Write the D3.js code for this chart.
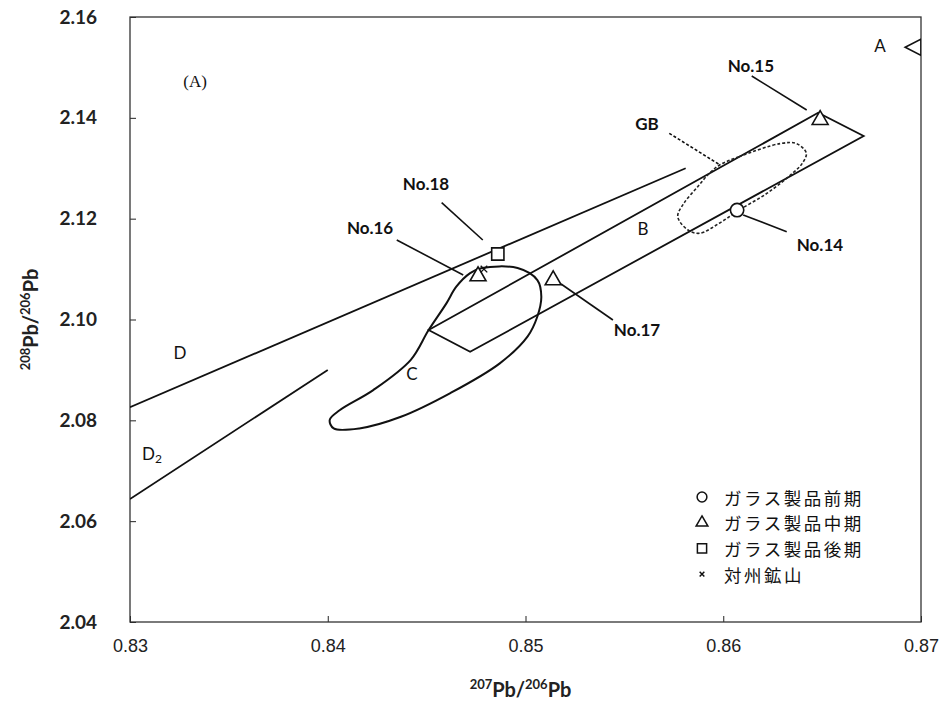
<!DOCTYPE html>
<html>
<head>
<meta charset="utf-8">
<script src="https://cdn.jsdelivr.net/npm/d3@7"></script>
<style>
  body { margin: 0; background: #fff; overflow: hidden; }
  svg { display: block; }
  .tick line { stroke: #222; }
  .ylab .tick text { font-family: Lato, "Open Sans", sans-serif; font-weight: 700; font-size: 19px; fill: #222; }
  .xlab .tick text { font-family: "Liberation Sans Narrow", "Liberation Sans", sans-serif; font-stretch: condensed; font-size: 18px; fill: #222; }
  .lbl { font-family: Lato, "Open Sans", sans-serif; font-weight: 700; font-size: 17px; fill: #111; }
  .zone { font-family: Lato, "Open Sans", sans-serif; font-size: 17px; fill: #111; }
  .leg { font-family: "Noto Sans CJK JP", sans-serif; font-size: 17.5px; letter-spacing: 2.5px; fill: #111; }
</style>
<script>
// tick values
const xTicks = [0.83, 0.84, 0.85, 0.86, 0.87];
const yTicks = [2.04, 2.06, 2.08, 2.10, 2.12, 2.14, 2.16];

// samples: [name, group, x, y]
const samples = [
    ["No.14", "前期", 0.8607, 2.1217],
    ["No.15", "中期", 0.8649, 2.1396],
    ["No.16", "中期", 0.8476, 2.1086],
    ["No.17", "中期", 0.8514, 2.1078],
    ["No.18", "後期", 0.8486, 2.1130]
];
const mine = [[0.8479, 2.1100]];

// field of A (left pointing triangle at the right edge)
const fieldA = [[0.8692, 2.1540], [0.8700, 2.1556], [0.8700, 2.1524]];

// region outlines
const lineD = [[0.8300, 2.0826], [0.8581, 2.1300]];
const lineD2 = [[0.8300, 2.0644], [0.8400, 2.0900]];
const regionB = [[0.8451, 2.0979], [0.8648, 2.1410], [0.8671, 2.1364], [0.8472, 2.0936]];
const regionC = [
    [0.8478, 2.1102], [0.8496, 2.1102], [0.8506, 2.1078], [0.8508, 2.1045],
    [0.8506, 2.1006], [0.8501, 2.0966], [0.8487, 2.0913], [0.8462, 2.0854],
    [0.8437, 2.0807], [0.8416, 2.0784], [0.8403, 2.0784], [0.8401, 2.0801],
    [0.8406, 2.0820], [0.8423, 2.0860], [0.8442, 2.0920], [0.8451, 2.0979],
    [0.8460, 2.1032], [0.8465, 2.1065], [0.8472, 2.1092]
];
const regionGB = [
    [0.8598, 2.1306], [0.8608, 2.1323], [0.8629, 2.1349], [0.8637, 2.1349],
    [0.8642, 2.1330], [0.8640, 2.1310], [0.8635, 2.1290], [0.8622, 2.1250],
    [0.8608, 2.1217], [0.8598, 2.1191], [0.8588, 2.1171], [0.8582, 2.1178],
    [0.8577, 2.1204], [0.8580, 2.1230], [0.8587, 2.1263], [0.8593, 2.1290]
];

// leader lines: [x1, y1, x2, y2, dashed]
const leaders = [
    [0.86144, 2.14830, 0.86422, 2.14155, false],
    [0.85727, 2.13693, 0.85984, 2.13064, true],
    [0.86101, 2.12073, 0.86321, 2.11741, false],
    [0.84576, 2.12317, 0.84784, 2.11577, false],
    [0.84349, 2.11577, 0.84685, 2.10883, false],
    [0.85180, 2.10704, 0.85442, 2.09990, false]
];

// sample labels: [text, x, y]
const sampleLabels = [
    ["No.15", 0.8614, 2.1503],
    ["GB", 0.85614, 2.13897],
    ["No.14", 0.86489, 2.11478],
    ["No.18", 0.84497, 2.12688],
    ["No.16", 0.84214, 2.11815],
    ["No.17", 0.85564, 2.09811]
];
// zone labels: [text, subscript, x, y]
const zoneLabels = [
    ["A", "", 0.86793, 2.15445],
    ["B", "", 0.85594, 2.11815],
    ["C", "", 0.84426, 2.08939],
    ["D", "", 0.83253, 2.09355],
    ["D", "2", 0.83111, 2.07352]
];

const legendItems = [
    ["circle", "ガラス製品前期"],
    ["triangle", "ガラス製品中期"],
    ["square", "ガラス製品後期"],
    ["cross", "対州鉱山"]
];

const draw = () => {
    const width = 939, height = 706;
    const svg = d3.select("body").append("svg").attr("width", width).attr("height", height);

    const margin = { top: 17, right: 18, bottom: 84, left: 130 };
    const innerWidth = width - margin.left - margin.right;
    const innerHeight = height - margin.top - margin.bottom;

    const xScale = d3.scaleLinear().domain([0.83, 0.87]).range([0, innerWidth]);
    const yScale = d3.scaleLinear().domain([2.04, 2.16]).range([innerHeight, 0]);

    const g = svg.append("g").attr("transform", `translate(${margin.left},${margin.top})`);

    g.append("clipPath").attr("id", "clip")
        .append("rect").attr("width", innerWidth).attr("height", innerHeight);

    // axes
    const xAxisG = g.append("g").attr("class", "xlab")
        .attr("transform", `translate(0,${innerHeight})`)
        .call(d3.axisBottom(xScale).tickValues(xTicks).tickFormat(d3.format(".2f"))
            .tickSizeInner(-6).tickSizeOuter(0).tickPadding(17));
    const yAxisG = g.append("g").attr("class", "ylab")
        .call(d3.axisLeft(yScale).tickValues(yTicks).tickFormat(d3.format(".2f"))
            .tickSizeInner(-6).tickSizeOuter(0).tickPadding(33));
    xAxisG.select(".domain").remove();
    yAxisG.select(".domain").remove();

    g.append("rect")
        .attr("width", innerWidth).attr("height", innerHeight)
        .attr("fill", "none").attr("stroke", "#333").attr("stroke-width", 1.3);

    // axis titles
    const xt = svg.append("text")
        .attr("x", margin.left + innerWidth / 2 - 5).attr("y", 697)
        .attr("text-anchor", "middle")
        .attr("font-family", "Lato, sans-serif").attr("font-weight", 700).attr("font-size", 20).attr("fill", "#222");
    xt.append("tspan").attr("font-size", 13).attr("dy", -8).text("207");
    xt.append("tspan").attr("dy", 8).text("Pb/");
    xt.append("tspan").attr("font-size", 13).attr("dy", -8).text("206");
    xt.append("tspan").attr("dy", 8).text("Pb");

    const yt = svg.append("text")
        .attr("transform", `translate(38,${margin.top + innerHeight / 2}) rotate(-90)`)
        .attr("text-anchor", "middle")
        .attr("font-family", "Lato, sans-serif").attr("font-weight", 700).attr("font-size", 20).attr("fill", "#222");
    yt.append("tspan").attr("font-size", 13).attr("dy", -8).text("208");
    yt.append("tspan").attr("dy", 8).text("Pb/");
    yt.append("tspan").attr("font-size", 13).attr("dy", -8).text("206");
    yt.append("tspan").attr("dy", 8).text("Pb");

    const plot = g.append("g").attr("clip-path", "url(#clip)");
    const line = d3.line().x(d => xScale(d[0])).y(d => yScale(d[1]));
    const closedLine = d3.line().x(d => xScale(d[0])).y(d => yScale(d[1])).curve(d3.curveLinearClosed);
    const smoothLoop = d3.line().x(d => xScale(d[0])).y(d => yScale(d[1])).curve(d3.curveCatmullRomClosed.alpha(0.5));

    plot.selectAll(".dline")
        .data([lineD, lineD2])
        .enter().append("path")
        .attr("d", line)
        .attr("fill", "none").attr("stroke", "#111").attr("stroke-width", 1.8);

    plot.append("path")
        .attr("d", closedLine(regionB))
        .attr("fill", "none").attr("stroke", "#111").attr("stroke-width", 1.8);

    plot.append("path")
        .attr("d", smoothLoop(regionC))
        .attr("fill", "none").attr("stroke", "#111").attr("stroke-width", 2);

    plot.append("path")
        .attr("d", smoothLoop(regionGB))
        .attr("fill", "none").attr("stroke", "#222").attr("stroke-width", 1.6)
        .attr("stroke-dasharray", "3,2");

    plot.selectAll(".leader")
        .data(leaders)
        .enter().append("line")
        .attr("x1", d => xScale(d[0])).attr("y1", d => yScale(d[1]))
        .attr("x2", d => xScale(d[2])).attr("y2", d => yScale(d[3]))
        .attr("stroke", "#111").attr("stroke-width", 1.6)
        .attr("stroke-dasharray", d => d[4] ? "3,2" : null);

    plot.append("path")
        .attr("d", closedLine(fieldA))
        .attr("fill", "none").attr("stroke", "#111").attr("stroke-width", 1.6);

    // markers
    const symbolPath = {
        circle: d3.symbol(d3.symbolCircle, 140)(),
        triangle: d3.symbol(d3.symbolTriangle, 110)(),
        square: d3.symbol(d3.symbolSquare, 150)(),
        cross: d3.symbol(d3.symbolX, 30)()
    };
    const groupSym = { "前期": "circle", "中期": "triangle", "後期": "square" };

    plot.selectAll(".sample")
        .data(samples)
        .enter().append("path")
        .attr("transform", d => `translate(${xScale(d[2])},${yScale(d[3])})`)
        .attr("d", d => symbolPath[groupSym[d[1]]])
        .attr("fill", "#fff").attr("stroke", "#111").attr("stroke-width", 1.6);

    plot.selectAll(".mine")
        .data(mine)
        .enter().append("path")
        .attr("transform", d => `translate(${xScale(d[0])},${yScale(d[1])})`)
        .attr("d", symbolPath.cross)
        .attr("fill", "none").attr("stroke", "#111").attr("stroke-width", 1.4);

    // labels
    g.selectAll(".lbl")
        .data(sampleLabels)
        .enter().append("text")
        .attr("class", "lbl")
        .attr("x", d => xScale(d[1])).attr("y", d => yScale(d[2]))
        .attr("text-anchor", "middle").attr("dominant-baseline", "central")
        .text(d => d[0]);

    const zl = g.selectAll(".zone")
        .data(zoneLabels)
        .enter().append("text")
        .attr("class", "zone")
        .attr("x", d => xScale(d[2])).attr("y", d => yScale(d[3]))
        .attr("text-anchor", "middle").attr("dominant-baseline", "central");
    zl.append("tspan").text(d => d[0]);
    zl.append("tspan").attr("font-size", 12).attr("dy", 5).text(d => d[1]);

    g.append("text")
        .attr("x", xScale(0.83329)).attr("y", yScale(2.14711))
        .attr("text-anchor", "middle").attr("dominant-baseline", "central")
        .attr("font-family", "Liberation Serif, serif").attr("font-size", 17).attr("fill", "#111")
        .text("(A)");

    // legend
    const legend = svg.append("g").attr("transform", "translate(702,497)");
    const legRow = legend.selectAll("g")
        .data(legendItems)
        .enter().append("g")
        .attr("transform", (d, i) => `translate(0,${i * 25.7})`);
    legRow.append("path")
        .attr("d", d => d[0] === "circle" ? d3.symbol(d3.symbolCircle, 75)()
            : d[0] === "triangle" ? d3.symbol(d3.symbolTriangle, 60)()
            : d[0] === "square" ? d3.symbol(d3.symbolSquare, 85)()
            : d3.symbol(d3.symbolX, 16)())
        .attr("fill", "none").attr("stroke", "#111").attr("stroke-width", 1.5);
    legRow.append("text")
        .attr("class", "leg")
        .attr("x", 22).attr("dominant-baseline", "central")
        .text(d => d[1]);
};

window.addEventListener("DOMContentLoaded", draw);
</script>
</head>
<body>
</body>
</html>
